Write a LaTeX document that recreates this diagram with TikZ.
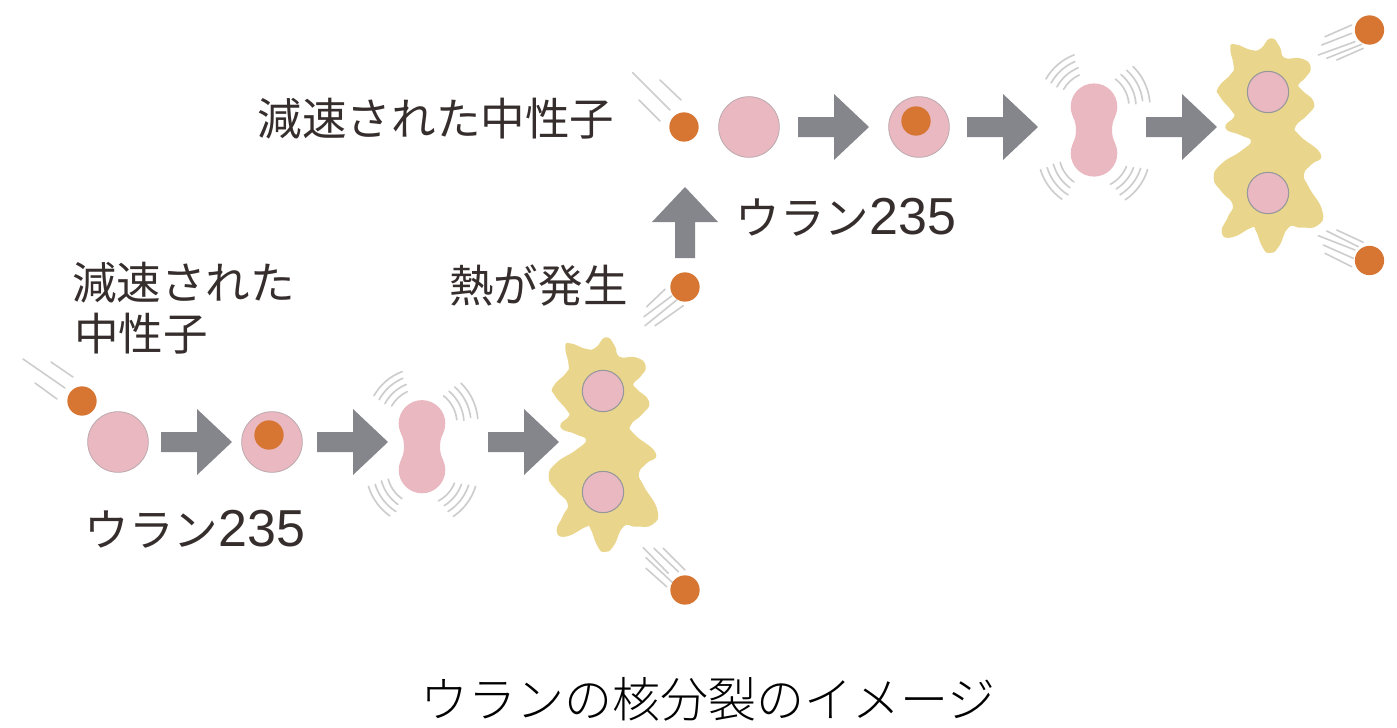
\documentclass[tikz,border=0pt]{standalone}
\usepackage{fontspec}
\setmainfont{Noto Sans CJK JP}
\newfontfamily\titlefont{Noto Sans CJK JP Light}
\newfontfamily\digitfont{Liberation Sans}
\newcommand{\isotope}{ウラン{\digitfont\fontsize{39pt}{40pt}\selectfont 235}}
\definecolor{nucleuspink}{HTML}{EAB8C1}
\definecolor{nucleusedge}{HTML}{BBA9AE}
\definecolor{neutronorange}{HTML}{D77632}
\definecolor{fireyellow}{HTML}{E9D58B}
\definecolor{arrowgrey}{HTML}{85868B}
\definecolor{streakgrey}{HTML}{CDCDCD}
\definecolor{labelink}{HTML}{362E2D}
\tikzset{
  x=0.75pt, y=-0.75pt,
  neutron/.style={circle, fill=neutronorange, draw=none, inner sep=0pt, minimum size=22pt},
  nucleus/.style={circle, fill=nucleuspink, draw=nucleusedge, line width=0.6pt, inner sep=0pt, minimum size=45.5pt},
  fragment/.style={circle, fill=nucleuspink, draw=arrowgrey!85, line width=0.8pt, inner sep=0pt, minimum size=31pt},
  streak/.style={draw=streakgrey, line width=1.2pt, line cap=round},
  tremor/.style={draw=streakgrey, line width=1.25pt, line cap=round},
  labeltext/.style={inner sep=0pt, text=labelink, font=\fontsize{33.4pt}{40pt}\selectfont, align=left},
  pics/blockarrow/.style={code={
    \fill[arrowgrey] (0,-10) -- (36,-10) -- (36,-33) -- (71,0) -- (36,33) -- (36,10) -- (0,10) -- cycle;
  }},
  pics/fireball/.style={code={
    \filldraw[fill=fireyellow, draw=fireyellow, line width=1.5pt, line join=round, scale=0.3333] plot[smooth cycle, tension=0.9] coordinates {
      (8,-308) (32,-285) (48,-250) (98,-248) (125,-225) (110,-195) (88,-173) (100,-153)
      (135,-118) (118,-85) (80,-48) (92,-18) (155,37) (128,65) (105,97) (120,137)
      (160,207) (147,248) (100,254) (60,254) (30,312) (5,330) (-15,312) (-35,262)
      (-50,254) (-108,283) (-136,270) (-118,227) (-103,187) (-137,147) (-160,107) (-137,67)
      (-80,30) (-48,-3) (-80,-23) (-125,-43) (-100,-73) (-105,-93) (-142,-138) (-146,-163)
      (-108,-203) (-100,-228) (-110,-278) (-98,-290) (-50,-273) (-20,-278)
    };
  }},
  pics/peanut/.style={code={
    % two round lobes joined by a concave waist
    \fill[nucleuspink] (0,-23.3) circle[radius=23.3];
    \fill[nucleuspink] (0,23.3) circle[radius=23.3];
    \fill[nucleuspink] (21,-13) .. controls (17,-6) and (17,6) .. (21,13)
      -- (-21,13) .. controls (-17,6) and (-17,-6) .. (-21,-13) -- cycle;
    % concentric tremor arcs around each lobe
    \foreach \r/\a/\b in {35/115/150, 42/112/152, 49/113/151, 55.5/111/150}
      \draw[tremor] (0,-23.3) ++({-\a}:\r) arc[start angle=-\a, end angle=-\b, radius=\r];
    \foreach \r/\a/\b in {35/6/52, 42/4/50, 49/7/48, 56/5/46}
      \draw[tremor] (0,-23.3) ++({-\a}:\r) arc[start angle=-\a, end angle=-\b, radius=\r];
    \foreach \r/\a/\b in {35/22/62, 42/20/58, 49/18/58, 56/17/56}
      \draw[tremor] (0,23.3) ++({\a}:\r) arc[start angle=\a, end angle=\b, radius=\r];
    \foreach \r/\a/\b in {35/125/165, 42/125/165, 49/122/163, 56/125/163}
      \draw[tremor] (0,23.3) ++({\a}:\r) arc[start angle=\a, end angle=\b, radius=\r];
  }},
}
\begin{document}
\begin{tikzpicture}
\useasboundingbox (0,0) rectangle (1397,728);

% lower chain
\draw[streak] (23,359) -- (65,388);
\draw[streak] (51,362) -- (73,377);
\draw[streak] (35,383) -- (57,399);
\node[neutron] (slowA) at (82,401) {};
\node[nucleus] (uraniumA) at (118,442) {};
\pic at (161,442) {blockarrow};
\node[nucleus] (excitedA) at (272,442) {};
\node[neutron] (capturedA) at (269,435) {};
\pic at (317,442) {blockarrow};
\pic at (422,446.7) {peanut};
\pic at (488,442) {blockarrow};
\pic at (603,441) {fireball};
\node[fragment] (fragA1) at (603,391) {};
\node[fragment] (fragA2) at (603,492) {};

% neutrons released by the lower fission
\draw[streak] (646.7,306.7) -- (665,289.3);
\draw[streak] (644,316.7) -- (671.7,296);
\draw[streak] (645,325.7) -- (676.7,300);
\draw[streak] (655,325.7) -- (683.3,305.7);
\node[neutron] (releaseA1) at (685,287) {};
\draw[streak] (643.3,547.7) -- (668.3,573.3);
\draw[streak] (654,548.3) -- (678.3,571.7);
\draw[streak] (663.3,548.3) -- (685,570);
\draw[streak] (646,557.7) -- (673.3,583.3);
\draw[streak] (646,568.3) -- (666.7,586.7);
\node[neutron] (releaseA2) at (685,590) {};

% link between the two chains
\pic[rotate=90] at (685,258) {blockarrow};

% upper chain
\draw[streak] (632.7,72.7) -- (670,110);
\draw[streak] (660,80) -- (681,100);
\draw[streak] (639,100) -- (660,121);
\node[neutron] (slowB) at (684,127) {};
\node[nucleus] (uraniumB) at (749,127) {};
\pic at (798,127) {blockarrow};
\node[nucleus] (excitedB) at (919,127) {};
\node[neutron] (capturedB) at (916,121) {};
\pic at (967,127) {blockarrow};
\pic at (1094,130) {peanut};
\pic at (1146,127) {blockarrow};
\pic at (1268,142) {fireball};
\node[fragment] (fragB1) at (1268,92) {};
\node[fragment] (fragB2) at (1268,193) {};

% neutrons released by the upper fission
\draw[streak] (1325,36.7) -- (1351.7,25);
\draw[streak] (1321.7,45) -- (1351.7,33.3);
\draw[streak] (1318.3,55) -- (1355,41.7);
\draw[streak] (1326.7,58.3) -- (1361.7,44.3);
\draw[streak] (1336.7,60) -- (1363.3,48.3);
\node[neutron] (releaseB1) at (1369.5,30) {};
\draw[streak] (1336.7,230) -- (1363.3,242.3);
\draw[streak] (1326.7,231) -- (1358.3,246.7);
\draw[streak] (1318.3,235.7) -- (1355,250);
\draw[streak] (1323.3,245) -- (1353.3,258.3);
\draw[streak] (1325,253.3) -- (1351.7,266.7);
\node[neutron] (releaseB2) at (1369.5,260.5) {};

% labels
\node[labeltext] (labelSlowB) at (436,119) {減速された中性子};
\node[labeltext, anchor=west] (labelSlowA1) at (72,283) {減速された};
\node[labeltext, anchor=west] (labelSlowA2) at (74,334) {中性子};
\node[labeltext] (labelHeat) at (538.5,286) {熱が発生};
\node[labeltext] (labelU235A) at (195,529) {\isotope};
\node[labeltext] (labelU235B) at (846,217) {\isotope};
\node[inner sep=0pt, text=black, font=\titlefont\fontsize{36pt}{42pt}\selectfont] (caption) at (708,699) {ウランの核分裂のイメージ};
\end{tikzpicture}
\end{document}
